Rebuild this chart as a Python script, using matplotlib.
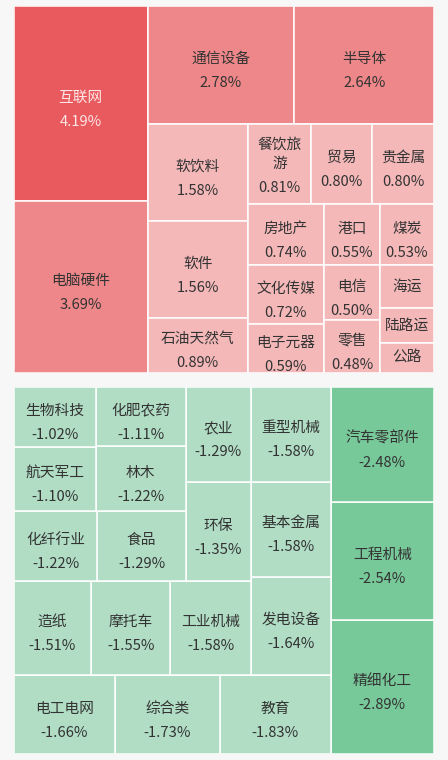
import matplotlib
matplotlib.use("Agg")
import matplotlib.pyplot as plt
from matplotlib.patches import Rectangle, FancyBboxPatch

plt.rcParams['font.family'] = ['Noto Sans CJK SC', 'DejaVu Sans']

# gainers (top block)
up_names = ['互联网', '电脑硬件', '通信设备', '半导体', '软饮料', '软件', '石油天然气',
            '餐饮旅游', '贸易', '贵金属', '房地产', '文化传媒', '电子元器', '港口',
            '煤炭', '电信', '零售', '海运', '陆路运', '公路']
up_values = [4.19, 3.69, 2.78, 2.64, 1.58, 1.56, 0.89, 0.81, 0.80, 0.80, 0.74, 0.72,
             0.59, 0.55, 0.53, 0.50, 0.48, 0.37, 0.30, 0.26]

# losers (bottom block)
down_names = ['精细化工', '工程机械', '汽车零部件', '教育', '综合类', '电工电网', '发电设备',
              '基本金属', '重型机械', '工业机械', '摩托车', '造纸', '环保', '农业', '食品',
              '化纤行业', '林木', '化肥农药', '航天军工', '生物科技']
down_values = [-2.89, -2.54, -2.48, -1.83, -1.73, -1.66, -1.64, -1.58, -1.58, -1.58,
               -1.55, -1.51, -1.35, -1.29, -1.29, -1.22, -1.22, -1.11, -1.10, -1.02]

W, H = 448, 760
BG = '#f7f7f7'
FS = 10.6


def worst(row, side, ratio):
    s = sum(row)
    f = side ** 2 * ratio
    return max(f * max(row) / s ** 2, s ** 2 / (f * min(row)))


def squarify(sizes, x, y, w, h, ratio):
    total = sum(sizes)
    vals = [v * w * h / total for v in sizes]
    rects = []
    while vals:
        side = min(w, h)
        n = 1
        while n < len(vals) and worst(vals[:n + 1], side, ratio) <= worst(vals[:n], side, ratio):
            n += 1
        row = vals[:n]
        s = sum(row)
        if side != w:
            cw = s / h
            yy = y
            for v in row:
                rects.append((x, yy, cw, v / cw))
                yy += v / cw
            x += cw
            w -= cw
        else:
            rh = s / w
            xx = x
            for v in row:
                rects.append((xx, y, v / rh, rh))
                xx += v / rh
            y += rh
            h -= rh
        vals = vals[n:]
    return rects


def wrap(name, width, renderer, ax):
    lines, cur = [], ''
    for ch in name:
        t = ax.text(0, 0, cur + ch, fontsize=FS)
        bw = t.get_window_extent(renderer).width
        t.remove()
        if bw > width and cur:
            lines.append(cur)
            cur = ch
        else:
            cur += ch
    lines.append(cur)
    return lines


def draw_block(ax, names, values, box, colors, ratio, mirror=False):
    x0, y0, bw, bh = box
    order = sorted(range(len(values)), key=lambda i: -abs(values[i]))
    rects = squarify([abs(values[i]) for i in order], x0, y0, bw, bh, ratio)
    clip = FancyBboxPatch((x0, y0), bw, bh, boxstyle='round,pad=0,rounding_size=4',
                          transform=ax.transData, facecolor='none', edgecolor='none')
    ax.add_patch(clip)
    renderer = ax.figure.canvas.get_renderer()
    for i, (x, y, w, h) in zip(order, rects):
        if mirror:
            x = 2 * x0 + bw - x - w
            y = 2 * y0 + bh - y - h
        fc, tc = colors(abs(values[i]))
        r = Rectangle((x, y), w, h, facecolor=fc, edgecolor='white', linewidth=1.1)
        ax.add_patch(r)
        r.set_clip_path(clip)
        cx, cy = x + w / 2, y + h / 2
        lines = wrap(names[i], w - 5, renderer, ax)
        if h < 45:
            ax.text(cx, cy, names[i], ha='center', va='center', fontsize=FS, color=tc)
            continue
        n = len(lines)
        span = 19 * (n - 1) + 24
        first = cy - span / 2 + 6 - (n - 1) * 4
        for k, ln in enumerate(lines):
            ax.text(cx, first + 19 * k, ln, ha='center', va='center', fontsize=FS, color=tc)
        ax.text(cx, first + 19 * (n - 1) + 24, f'{values[i]:.2f}%', ha='center',
                va='center', fontsize=FS, color=tc)


def red_color(v):
    if v >= 4:
        return '#e85a5e', '#fde6e6'
    if v >= 2.5:
        return '#ee8789', '#333333'
    return '#f4b8b9', '#333333'


def green_color(v):
    if v >= 2:
        return '#78c99a', '#333333'
    return '#b0ddc4', '#333333'


fig = plt.figure(figsize=(W / 100, H / 100), dpi=100, facecolor=BG)
ax = fig.add_axes([0, 0, 1, 1])
ax.set_xlim(0, W)
ax.set_ylim(H, 0)
ax.axis('off')
ax.set_facecolor(BG)

draw_block(ax, up_names, up_values, (14, 6, 420, 367), red_color, 1.1)
draw_block(ax, down_names, down_values, (14, 387, 420, 367), green_color, 0.95, mirror=True)

fig.savefig('out.png', dpi=100, facecolor=BG)
